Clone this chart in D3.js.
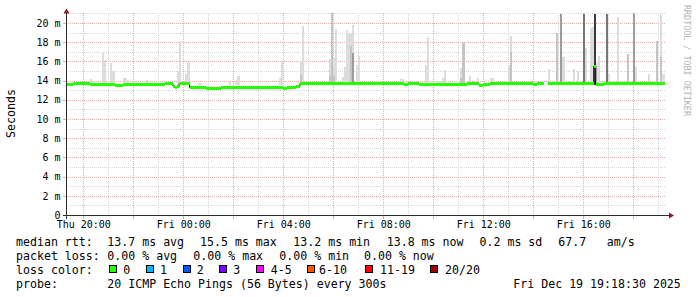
<!DOCTYPE html>
<html>
<head>
<meta charset="utf-8">
<script src="https://cdn.jsdelivr.net/npm/d3@7"></script>
<style>
  body { margin: 0; background: #fff; }
  svg { display: block; }
  text { font-family: "DejaVu Sans Mono", monospace; fill: #000; }
</style>
</head>
<body>
<script>
// ---- data ----
const timeStart = new Date(Date.UTC(2025, 11, 18, 19, 18, 30));
const timeEnd = new Date(Date.UTC(2025, 11, 19, 19, 18, 30));

const yTickValues = [0, 2, 4, 6, 8, 10, 12, 14, 16, 18, 20];

// median rtt (ms), step values: each holds until the next entry
const medianSteps = [
  ["Thu 19:15", 13.58], ["Thu 19:35", 13.70], ["Thu 20:15", 13.62],
  ["Thu 20:55", 13.58], ["Thu 21:15", 13.53], ["Thu 21:35", 13.64],
  ["Thu 23:00", 13.55], ["Thu 23:15", 13.70], ["Thu 23:35", 13.43],
  ["Thu 23:40", 13.24], ["Thu 23:45", 13.38], ["Thu 23:50", 13.70],
  ["Fri 00:15", 13.30], ["Fri 00:55", 13.14], ["Fri 01:30", 13.24],
  ["Fri 02:00", 13.28], ["Fri 03:10", 13.24], ["Fri 04:00", 13.14],
  ["Fri 04:10", 13.24], ["Fri 04:30", 13.38], ["Fri 04:40", 13.72],
  ["Fri 08:50", 13.64], ["Fri 09:00", 13.72], ["Fri 09:25", 13.58],
  ["Fri 10:30", 13.55], ["Fri 10:55", 13.64], ["Fri 11:10", 13.55],
  ["Fri 11:20", 13.67], ["Fri 11:50", 13.53], ["Fri 12:00", 13.58],
  ["Fri 12:15", 13.70], ["Fri 14:00", 13.58], ["Fri 14:10", 13.70],
  ["Fri 14:25", null], ["Fri 14:35", 13.72], ["Fri 16:25", 15.50],
  ["Fri 16:30", 13.55], ["Fri 16:40", 13.62], ["Fri 16:50", 13.72],
  ["Fri 19:15", null]
];

// smoke columns: [5-min step, highest ping (ms), density 0 = light .. 4 = dense]
const smokeFloor = 13.5;
const smokeColumns = [
  ["Thu 20:15", 14.2, 0], ["Thu 20:45", 17.0, 0], ["Thu 20:50", 16.1, 0],
  ["Thu 21:05", 15.8, 0], ["Thu 21:10", 15.0, 0], ["Thu 21:35", 14.3, 0],
  ["Thu 21:40", 14.3, 0], ["Thu 21:45", 14.1, 0], ["Thu 22:30", 14.1, 0],
  ["Thu 23:45", 15.0, 0], ["Thu 23:50", 18.1, 0], ["Fri 00:05", 14.7, 0],
  ["Fri 00:10", 15.9, 0], ["Fri 00:35", 13.7, 0], ["Fri 00:40", 13.7, 0],
  ["Fri 01:50", 14.0, 0], ["Fri 02:05", 13.9, 0], ["Fri 02:10", 14.5, 0],
  ["Fri 03:50", 14.3, 0], ["Fri 03:55", 15.9, 0], ["Fri 04:40", 16.0, 0],
  ["Fri 04:40", 14.6, 1], ["Fri 04:45", 19.7, 0], ["Fri 05:50", 16.2, 0],
  ["Fri 05:50", 14.5, 1], ["Fri 05:55", 21.0, 1], ["Fri 06:00", 16.4, 0],
  ["Fri 06:00", 14.5, 1], ["Fri 06:05", 19.4, 0], ["Fri 06:20", 14.4, 0],
  ["Fri 06:25", 15.4, 0], ["Fri 06:30", 19.3, 0], ["Fri 06:35", 19.0, 0],
  ["Fri 06:40", 19.0, 0], ["Fri 06:40", 17.6, 1], ["Fri 06:45", 19.8, 0],
  ["Fri 06:45", 16.9, 2], ["Fri 06:55", 15.6, 0], ["Fri 07:00", 16.6, 0],
  ["Fri 08:40", 14.2, 0], ["Fri 08:45", 14.2, 0], ["Fri 09:40", 15.6, 0],
  ["Fri 09:45", 18.5, 0], ["Fri 10:10", 14.0, 0], ["Fri 10:15", 14.0, 0],
  ["Fri 10:20", 14.3, 0], ["Fri 10:25", 15.1, 0], ["Fri 11:00", 14.0, 0],
  ["Fri 11:05", 15.3, 0], ["Fri 11:05", 14.3, 1], ["Fri 11:10", 18.0, 1],
  ["Fri 11:25", 14.5, 0], ["Fri 11:45", 14.3, 0], ["Fri 12:15", 14.3, 0],
  ["Fri 12:20", 14.3, 0], ["Fri 13:00", 15.5, 0], ["Fri 13:05", 18.6, 0],
  ["Fri 13:05", 17.0, 1], ["Fri 14:35", 15.2, 0], ["Fri 14:55", 19.0, 1],
  ["Fri 15:05", 20.9, 2], ["Fri 15:10", 16.5, 0], ["Fri 15:35", 15.2, 0],
  ["Fri 15:45", 15.0, 0], ["Fri 16:00", 20.9, 3], ["Fri 16:05", 17.4, 0],
  ["Fri 16:15", 19.5, 0], ["Fri 16:20", 19.6, 0], ["Fri 16:25", 20.9, 4],
  ["Fri 16:30", 15.8, 0], ["Fri 16:35", 16.6, 0], ["Fri 16:55", 20.9, 3],
  ["Fri 17:00", 14.7, 0], ["Fri 17:20", 20.6, 0], ["Fri 17:45", 16.8, 1],
  ["Fri 18:00", 20.9, 2], ["Fri 18:05", 15.4, 0], ["Fri 18:35", 14.7, 0],
  ["Fri 18:55", 18.1, 1], ["Fri 19:05", 20.9, 0], ["Fri 19:05", 16.5, 1],
  ["Fri 19:10", 14.7, 0]
];

const rowLabels = ["median rtt:", "packet loss:", "loss color:", "probe:"];
const rttStats = ["13.7 ms avg", "15.5 ms max", "13.2 ms min", "13.8 ms now", "0.2 ms sd", "67.7", "am/s"];
const lossStats = ["0.00 % avg", "0.00 % max", "0.00 % min", "0.00 % now"];
const lossLabels = ["0", "1", "2", "3", "4-5", "6-10", "11-19", "20/20"];
const probeText = "20 ICMP Echo Pings (56 Bytes) every 300s";
const stampText = "Fri Dec 19 19:18:30 2025";

// ---- styles / layout ----
const lossColors = ["#26ff00", "#00b8ff", "#0059ff", "#7e00ff", "#ff00ff", "#ff5500", "#ff0000", "#a00000"];
const smokeShades = ["#dcdcdc", "#c4c4c4", "#9c9c9c", "#767676", "#3a3a3a"];
const rttX = [107.3, 200, 293.3, 386.7, 479.5, 558.3, 606.7];
const lossX = [107.3, 193.3, 279.3, 364];
const boxX = [109, 146, 183, 219, 256, 307, 365, 430];
const boxLabelX = [123.3, 160, 196.7, 233.3, 270.7, 319, 380, 445];
const rowY = [245.5, 259.5, 273.5, 287.5];
const minorGrid = "#d4d4d4", majorGrid = "#e8aaaa";

const W = 697, H = 297;
const parseT = s => {
  const [d, hm] = s.split(" ");
  const [h, m] = hm.split(":").map(Number);
  return new Date(Date.UTC(2025, 11, d === "Thu" ? 18 : 19, h, m));
};
const step = 5 * 60 * 1000;

const svg = d3.select("body").append("svg").attr("width", W).attr("height", H);
svg.append("rect").attr("width", W).attr("height", H).attr("fill", "#fff");

const x = d3.scaleUtc().domain([timeStart, timeEnd]).range([66, 666]);
const y = d3.scaleLinear().domain([0, 21.04]).range([215, 13]);
const px = v => Math.round(v) + 0.5;

// grid
const grid = svg.append("g").attr("shape-rendering", "crispEdges");
const hours = d3.utcHour.range(timeStart, timeEnd);
const evenHours = hours.filter(d => d.getUTCHours() % 2 === 0);
const drawV = (list, color) => grid.selectAll(null).data(list).join("line")
  .attr("x1", d => px(x(d))).attr("x2", d => px(x(d)))
  .attr("y1", 13).attr("y2", 215)
  .attr("stroke", color).attr("stroke-dasharray", "1,1");
const drawH = (list, color) => grid.selectAll(null).data(list).join("line")
  .attr("x1", 66).attr("x2", 666)
  .attr("y1", d => px(y(d))).attr("y2", d => px(y(d)))
  .attr("stroke", color).attr("stroke-dasharray", "1,1");
drawV(hours, minorGrid);
drawH(d3.range(1, 22), minorGrid);
drawV(evenHours, majorGrid);
drawH(yTickValues.filter(v => v > 0), majorGrid);
// small ticks outside the axes
grid.selectAll(null).data(yTickValues.filter(v => v > 0)).join("line")
  .attr("x1", 63).attr("x2", 66).attr("y1", d => px(y(d))).attr("y2", d => px(y(d)))
  .attr("stroke", majorGrid);
grid.selectAll(null).data(evenHours).join("line")
  .attr("x1", d => px(x(d))).attr("x2", d => px(x(d))).attr("y1", 216).attr("y2", 219)
  .attr("stroke", majorGrid);

// smoke
const plot = svg.append("g").attr("shape-rendering", "crispEdges");
const smokeSorted = smokeColumns.slice().sort((a, b) => a[2] - b[2]);
plot.selectAll(null).data(smokeSorted).join("rect")
  .attr("x", d => x(parseT(d[0])))
  .attr("width", d => x(new Date(+parseT(d[0]) + step)) - x(parseT(d[0])))
  .attr("y", d => y(d[1]))
  .attr("height", d => y(smokeFloor) - y(d[1]))
  .attr("fill", d => smokeShades[d[2]]);

// median: contiguous runs of step segments
const segRuns = [];
let cur = null;
medianSteps.forEach((d, i) => {
  const t = parseT(d[0]);
  if (cur) cur.push([t, cur[cur.length - 1][1]]);
  if (d[1] == null || i === medianSteps.length - 1) {
    if (cur) segRuns.push(cur);
    cur = null;
  } else {
    if (cur) cur.pop();
    if (!cur) cur = [];
    cur.push([t, d[1]]);
  }
});

svg.append("clipPath").attr("id", "pc").append("rect")
  .attr("x", 66).attr("y", 10).attr("width", 600).attr("height", 206);
const med = svg.append("g").attr("clip-path", "url(#pc)");
const medLine = d3.line().x(d => x(d[0])).y(d => y(d[1])).curve(d3.curveStepAfter);
const medBand = d3.area().x(d => x(d[0]))
  .y0(d => y(d[1]) + 1.5).y1(d => y(d[1]) - 1.5).curve(d3.curveStepAfter);
segRuns.forEach(r => {
  med.append("path").attr("d", medLine(r)).attr("fill", "none")
    .attr("stroke", "#111").attr("stroke-width", 1);
});
segRuns.forEach(r => {
  med.append("path").attr("d", medBand(r)).attr("fill", lossColors[0])
    .attr("shape-rendering", "crispEdges");
});

// axes lines and arrows
const axisColor = "#2c2c2c", arrowColor = "#8b1a1a";
svg.append("line").attr("x1", 66.5).attr("x2", 66.5).attr("y1", 219).attr("y2", 12)
  .attr("stroke", axisColor);
svg.append("line").attr("x1", 63).attr("x2", 670).attr("y1", 215.5).attr("y2", 215.5)
  .attr("stroke", axisColor);
svg.append("path").attr("d", "M66.5,8.5 L63.5,13.5 L69.5,13.5 Z").attr("fill", arrowColor);
svg.append("path").attr("d", "M674,215.5 L669,212.5 L669,218.5 Z").attr("fill", arrowColor);

// tick labels via d3 axes
const yAxis = svg.append("g").attr("transform", "translate(66,0)")
  .call(d3.axisLeft(y).tickValues(yTickValues).tickSize(0).tickPadding(5.5)
    .tickFormat(v => v === 0 ? "0" : v + " m"));
yAxis.select(".domain").remove();
yAxis.selectAll("text").attr("font-size", 10).attr("font-family", "DejaVu Sans Mono").attr("fill", "#000");

const xAxis = svg.append("g").attr("transform", "translate(0,215)")
  .call(d3.axisBottom(x).ticks(d3.utcHour.every(4)).tickSize(0).tickPadding(6)
    .tickFormat(d3.utcFormat("%a %H:%M")));
xAxis.select(".domain").remove();
xAxis.selectAll("text").attr("font-size", 10).attr("font-family", "DejaVu Sans Mono").attr("fill", "#000");

// y title and watermark
svg.append("text").attr("transform", "translate(14.5,113.5) rotate(-90)")
  .attr("text-anchor", "middle").attr("font-size", 11.6).text("Seconds");
svg.append("text").attr("transform", "translate(684,5) rotate(90)")
  .attr("font-size", 8.4).style("fill", "#b4b4b4").text("RRDTOOL / TOBI OETIKER");

// legend
const leg = svg.append("g").attr("font-size", 11.6).attr("xml:space", "preserve");
rowLabels.forEach((s, i) => leg.append("text").attr("x", 16).attr("y", rowY[i]).text(s));
rttStats.forEach((s, i) => leg.append("text").attr("x", rttX[i]).attr("y", rowY[0]).text(s));
lossStats.forEach((s, i) => leg.append("text").attr("x", lossX[i]).attr("y", rowY[1]).text(s));
lossLabels.forEach((s, i) => {
  leg.append("rect").attr("x", boxX[i] + 0.5).attr("y", 265.5).attr("width", 7).attr("height", 7)
    .attr("fill", lossColors[i]).attr("stroke", "#000").attr("shape-rendering", "crispEdges");
  leg.append("text").attr("x", boxLabelX[i]).attr("y", rowY[2]).text(s);
});
leg.append("text").attr("x", 107.3).attr("y", rowY[3]).text(probeText);
leg.append("text").attr("x", 513.3).attr("y", rowY[3]).text(stampText);
</script>
</body>
</html>
